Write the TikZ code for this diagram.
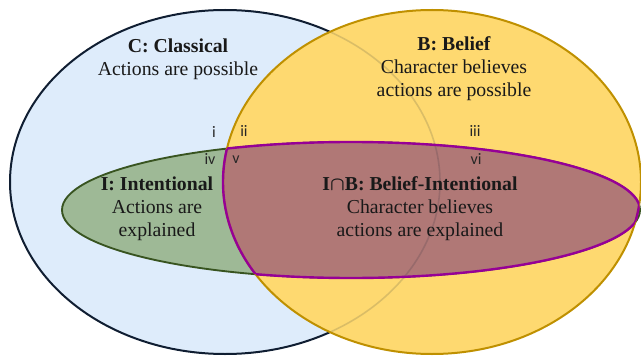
\documentclass[tikz,border=0pt]{standalone}
\usepackage{fontspec}
\setmainfont{Liberation Serif}
\newfontfamily\numfont{Carlito}
\usetikzlibrary{positioning}

\definecolor{cfill}{RGB}{222,236,251}
\definecolor{cline}{RGB}{16,30,50}
\definecolor{bfill}{RGB}{254,217,112}
\definecolor{bline}{RGB}{191,144,0}
\definecolor{ifill}{RGB}{158,185,150}
\definecolor{iline}{RGB}{56,84,32}
\definecolor{ibfill}{RGB}{176,120,118}
\definecolor{ibline}{RGB}{150,0,150}

\begin{document}
\begin{tikzpicture}[x=0.75pt,y=-0.75pt,
  settext/.style={align=center, text=black!90, font=\fontsize{14.8}{17.2}\selectfont},
  region/.style={text=black!85, font=\numfont\fontsize{12}{13}\selectfont}]
\useasboundingbox (0,0) rectangle (641,356);
% centres of the sets
\coordinate (C) at (225,182);
\coordinate (B) at (432,182);
\coordinate (I) at (351,210);
% C: classical
\fill [cfill] (C) ellipse [x radius=215, y radius=172];
\draw [cline, line width=1.5pt] (C) ellipse [x radius=215, y radius=172];
% B: belief
\fill [bfill] (B) ellipse [x radius=209, y radius=172];
% I: intentional
\draw [iline, fill=ifill, line width=1.4pt] (I) ellipse [x radius=289, y radius=68];
% I cap B
\begin{scope}
\clip (B) ellipse [x radius=209, y radius=172];
\fill [ibfill] (I) ellipse [x radius=289, y radius=68];
\draw [cline, opacity=.15, line width=1.2pt] (C) ellipse [x radius=215, y radius=172];
\end{scope}
\draw [bline, line width=1.5pt] (B) ellipse [x radius=209, y radius=172];
\begin{scope}
\clip (B) ellipse [x radius=209, y radius=172];
\draw [ibline, line width=1.8pt] (I) ellipse [x radius=289, y radius=68];
\end{scope}
\begin{scope}
\clip (I) ellipse [x radius=289, y radius=68];
\draw [ibline, line width=1.8pt] (B) ellipse [x radius=209, y radius=172];
\end{scope}
% set texts
\node (classical) [settext] at (178,59.5) {\textbf{C: Classical}\\Actions are possible};
\node (belief) [settext] at (454,68.5) {\textbf{B: Belief}\\Character believes\\actions are possible};
\node (intentional) [settext] at (157,209) {\textbf{I: Intentional}\\Actions are\\explained};
\node (beliefint) [settext] at (420,209) {\textbf{I{\boldmath$\cap$}B: Belief-Intentional}\\Character believes\\actions are explained};
% region numbers
\node (ri) [region] at (214,132) {i};
\node (rii) [region] at (244,131) {ii};
\node (riii) [region] at (475,131) {iii};
\node (riv) [region] at (210,159) {iv};
\node (rv) [region] at (236,160) {v};
\node (rvi) [region] at (476,159) {vi};
\end{tikzpicture}
\end{document}
